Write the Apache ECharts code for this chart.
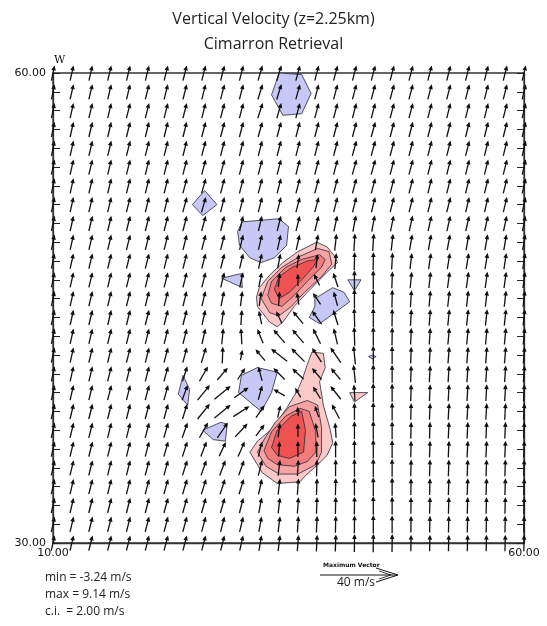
<!DOCTYPE html>
<html>
<head>
<meta charset="utf-8">
<script src="https://cdn.jsdelivr.net/npm/echarts@6/dist/echarts.min.js"></script>
<style>
  html, body { margin: 0; padding: 0; background: #fff; }
  #chart { width: 547px; height: 626px; }
</style>
</head>
<body>
<div id="chart"></div>
<script>
// grid of the retrieval: x every 2 km, y every 1.2 km (rows listed from top, y = 60 down to 30)
var xCols = [10,12,14,16,18,20,22,24,26,28,30,32,34,36,38,40,42,44,46,48,50,52,54,56,58,60];
var yRows = [60,58.8,57.6,56.4,55.2,54,52.8,51.6,50.4,49.2,48,46.8,45.6,44.4,43.2,42,40.8,39.6,38.4,37.2,36,34.8,33.6,32.4,31.2,30];

// horizontal wind, m/s (u east, v north), one row per yRows entry
var U = [
  [1.6,1.8,1.8,1.9,1.9,1.9,2.0,2.0,2.0,2.0,2.1,2.3,2.4,2.2,2.1,2.1,2.1,2.1,2.1,2.1,2.0,2.0,2.0,2.0,2.0,1.9],
  [1.6,1.8,1.9,1.9,1.9,2.0,2.0,2.0,2.0,2.1,2.1,2.5,2.5,2.2,2.1,2.1,2.1,2.1,2.1,2.1,2.1,2.0,2.0,2.0,2.0,1.9],
  [1.6,1.8,1.9,1.9,2.0,2.0,2.0,2.0,2.0,2.1,2.1,2.6,2.4,2.2,2.1,2.1,2.1,2.1,2.1,2.1,2.1,2.0,2.0,2.0,2.0,1.9],
  [1.6,1.8,1.9,1.9,2.0,2.0,2.0,2.0,2.1,2.1,2.1,2.2,2.2,2.1,2.1,2.1,2.1,2.2,2.1,2.1,2.1,2.0,2.0,2.0,2.0,1.9],
  [1.6,1.8,1.9,1.9,2.0,2.0,2.0,2.0,2.1,2.1,2.1,2.1,2.1,2.1,2.1,2.1,2.2,2.2,2.1,2.1,2.1,2.0,2.0,2.0,2.0,1.9],
  [1.6,1.8,1.9,1.9,2.0,2.0,2.0,2.1,2.1,2.1,2.1,2.1,2.1,2.1,2.1,2.1,2.2,2.2,2.1,2.1,2.1,2.0,2.0,2.0,2.0,1.9],
  [1.6,1.8,1.9,1.9,2.0,2.0,2.0,2.1,2.2,2.1,2.1,2.1,2.1,2.1,2.1,2.1,2.1,2.1,2.1,2.1,2.0,2.0,2.0,2.0,2.0,1.9],
  [1.6,1.8,1.9,1.9,2.0,2.0,2.0,2.2,2.3,2.1,2.0,2.0,2.0,2.1,2.1,2.0,2.0,2.0,2.0,2.0,2.0,2.0,1.9,1.9,1.9,1.8],
  [1.6,1.8,1.9,1.9,2.0,2.0,2.0,2.1,2.2,2.0,1.9,1.9,2.0,2.0,2.0,1.8,1.6,1.6,1.7,1.8,1.8,1.8,1.8,1.8,1.7,1.6],
  [1.6,1.8,1.9,1.9,2.0,2.0,2.0,2.0,2.1,2.0,1.9,1.9,1.8,1.8,1.5,1.0,0.5,0.6,1.0,1.4,1.5,1.5,1.5,1.5,1.4,1.4],
  [1.6,1.8,1.9,1.9,2.0,2.0,2.0,2.0,2.0,2.0,1.9,1.8,1.5,1.0,0.8,0.8,0.2,0.2,0.5,1.0,1.3,1.4,1.4,1.4,1.3,1.3],
  [1.6,1.8,1.9,1.9,2.0,2.0,2.0,2.0,2.0,1.9,1.8,1.5,0.8,0.0,-3.0,-2.5,0.0,0.0,0.3,0.8,1.0,1.2,1.2,1.2,1.2,1.1],
  [1.6,1.8,1.9,1.9,2.0,2.0,2.0,2.0,1.9,1.6,1.0,1.0,0.5,-1.0,-4.0,-2.0,0.0,0.0,0.2,0.6,0.8,1.0,1.0,1.0,1.0,1.0],
  [1.7,1.8,1.9,1.9,2.0,2.0,2.0,2.0,1.8,1.2,0.5,-1.5,-3.0,-5.5,-5.0,-2.5,-0.3,0.0,0.1,0.5,0.7,0.9,0.9,0.9,0.9,0.9],
  [1.7,1.8,1.9,2.0,2.0,2.0,2.0,2.0,1.8,0.8,-0.5,-3.0,-6.0,-6.0,-4.0,-2.0,-0.3,0.0,0.1,0.4,0.6,0.8,0.8,0.8,0.8,0.8],
  [1.7,1.8,1.9,2.0,2.0,2.0,2.1,2.2,2.5,0.3,1.0,-5.0,-8.5,-7.0,-5.0,-5.5,-1.0,0.0,0.0,0.3,0.5,0.7,0.7,0.7,0.7,0.7],
  [1.7,1.8,1.9,2.0,2.0,2.0,2.2,2.5,4.5,5.5,4.0,-2.0,-6.0,-6.0,-5.0,-5.0,-1.0,0.0,0.0,0.3,0.5,0.6,0.6,0.6,0.6,0.6],
  [1.7,1.8,1.9,2.0,2.0,2.1,2.2,3.0,6.5,8.5,7.5,2.0,-6.0,-3.0,-4.0,-5.5,-0.5,0.0,0.0,0.3,0.4,0.5,0.5,0.5,0.5,0.5],
  [1.8,1.9,2.0,2.0,2.0,2.1,2.2,2.5,6.5,8.5,8.5,4.5,1.5,-0.5,-2.0,-4.0,0.0,0.0,0.0,0.2,0.4,0.5,0.5,0.5,0.5,0.5],
  [1.8,1.9,2.0,2.0,2.0,2.1,2.3,2.8,4.5,5.5,6.5,4.5,1.0,0.0,-1.5,-0.5,0.0,0.0,0.0,0.2,0.3,0.4,0.4,0.4,0.4,0.4],
  [1.8,1.9,2.0,2.0,2.0,2.1,2.3,2.6,3.0,3.5,3.5,2.0,0.5,0.0,0.0,0.0,0.0,0.0,0.0,0.2,0.3,0.4,0.4,0.4,0.4,0.4],
  [1.8,1.9,2.0,2.0,2.0,2.1,2.2,2.5,2.8,3.0,2.8,2.0,1.0,0.5,0.2,0.1,0.0,0.0,0.0,0.2,0.3,0.3,0.3,0.3,0.3,0.3],
  [1.8,1.9,2.0,2.0,2.0,2.1,2.2,2.4,2.5,2.6,2.5,1.8,1.0,0.6,0.3,0.2,0.0,0.0,0.0,0.1,0.2,0.3,0.3,0.3,0.3,0.3],
  [1.8,1.9,2.0,2.0,2.0,2.1,2.2,2.3,2.3,2.3,2.1,1.6,1.0,0.6,0.3,0.2,0.1,0.0,0.0,0.1,0.2,0.2,0.2,0.2,0.2,0.2],
  [1.8,1.9,2.0,2.0,2.0,2.1,2.1,2.2,2.2,2.1,1.9,1.5,1.0,0.6,0.4,0.2,0.1,0.0,0.0,0.1,0.2,0.2,0.2,0.2,0.2,0.2],
  [1.8,1.9,2.0,2.0,2.0,2.0,2.1,2.1,2.1,2.0,1.8,1.4,1.0,0.7,0.4,0.3,0.1,0.1,0.1,0.1,0.2,0.2,0.2,0.2,0.2,0.2]
];
var V = [
  [8.0,8.0,8.0,8.0,8.0,8.0,8.0,8.0,8.0,8.0,8.0,8.1,8.1,8.0,8.0,8.0,8.0,8.0,8.0,8.0,8.0,8.0,8.0,8.0,8.0,8.0],
  [8.0,8.0,8.0,8.0,8.0,8.0,8.0,8.0,8.0,8.0,8.0,8.1,8.1,8.0,8.0,8.0,8.0,8.0,8.0,8.0,8.0,8.0,8.0,8.0,8.0,8.0],
  [8.0,8.0,8.0,8.0,8.0,8.0,8.0,8.0,8.0,8.0,8.0,8.1,8.1,8.0,8.0,8.0,8.0,8.0,8.0,8.0,8.0,8.0,8.0,8.0,8.0,8.0],
  [8.0,8.0,8.0,8.0,8.0,8.0,8.0,8.0,8.0,8.0,8.0,8.0,8.0,8.0,8.0,8.0,8.0,8.0,8.0,8.0,8.0,8.0,8.0,8.0,8.0,8.0],
  [8.0,8.0,8.0,8.0,8.0,8.0,8.0,8.0,8.0,8.0,8.0,8.0,8.0,8.0,8.0,8.0,8.0,8.0,8.0,8.0,8.0,8.0,8.0,8.0,8.0,8.0],
  [8.0,8.0,8.0,8.0,8.0,8.0,8.0,8.0,8.0,8.0,8.0,8.0,8.0,8.0,8.0,8.0,8.0,8.0,8.0,8.0,8.0,8.0,8.0,8.0,8.0,8.0],
  [8.0,8.0,8.0,8.0,8.0,8.0,8.0,8.0,8.0,8.0,8.0,8.0,8.0,8.0,8.0,8.0,8.0,8.0,8.0,8.0,8.0,8.0,8.0,8.0,8.0,8.0],
  [8.0,8.0,8.0,8.0,8.0,8.0,8.0,8.0,8.0,8.0,8.0,8.0,8.0,8.0,8.0,8.0,8.1,8.1,8.0,8.0,8.0,8.0,8.0,8.0,8.0,8.0],
  [8.0,8.0,8.0,8.0,8.0,8.0,8.0,8.0,8.0,8.0,8.0,8.0,8.0,8.0,8.1,8.3,8.6,8.6,8.4,8.2,8.1,8.1,8.1,8.1,8.1,8.1],
  [8.0,8.0,8.0,8.0,8.0,8.0,8.0,8.0,8.0,8.0,8.0,8.0,8.0,8.0,8.3,8.8,9.2,9.2,8.8,8.4,8.4,8.4,8.4,8.4,8.4,8.4],
  [8.0,8.0,8.0,8.0,8.0,8.0,8.0,8.0,8.0,8.0,8.0,8.0,7.8,7.5,7.5,8.5,9.5,9.5,9.0,8.5,8.5,8.5,8.5,8.5,8.5,8.5],
  [8.0,8.0,8.0,8.0,8.0,8.0,8.0,8.0,8.0,8.0,8.0,7.8,7.5,6.5,6.0,7.5,10.0,10.0,9.0,8.6,8.6,8.6,8.6,8.6,8.6,8.6],
  [8.0,8.0,8.0,8.0,8.0,8.0,8.0,8.0,8.0,8.0,8.0,7.8,7.5,6.5,6.0,7.5,10.0,10.0,9.5,9.0,8.6,8.6,8.6,8.6,8.6,8.6],
  [8.0,8.0,8.0,8.0,8.0,8.0,8.0,8.0,8.0,8.0,8.0,7.0,6.5,6.5,7.0,8.0,10.0,10.0,9.5,8.7,8.7,8.7,8.7,8.7,8.7,8.7],
  [8.0,8.0,8.0,8.0,8.0,8.0,8.0,8.0,8.2,8.5,8.5,7.5,7.0,7.0,8.0,8.5,10.0,10.0,9.5,8.8,8.8,8.8,8.8,8.8,8.8,8.8],
  [8.0,8.0,8.0,8.0,8.0,8.0,8.0,8.0,8.2,8.8,5.5,6.0,6.5,7.0,7.5,8.0,9.8,10.0,9.5,8.8,8.8,8.8,8.8,8.8,8.8,8.8],
  [8.0,8.0,8.0,8.0,8.0,8.0,8.0,8.0,7.8,6.5,6.0,7.5,6.0,5.5,6.0,6.0,9.5,10.0,9.5,8.8,8.8,8.8,8.8,8.8,8.8,8.8],
  [8.0,8.0,8.0,8.0,8.0,8.0,8.0,8.0,8.0,7.0,5.5,7.5,3.5,5.0,6.5,7.0,8.5,10.0,9.5,8.8,8.8,8.8,8.8,8.8,8.8,8.8],
  [8.0,8.0,8.0,8.0,8.0,8.0,8.0,8.0,8.0,7.0,5.5,6.5,6.5,5.0,6.0,7.5,9.0,10.0,9.5,8.8,8.8,8.8,8.8,8.8,8.8,8.8],
  [8.0,8.0,8.0,8.0,8.0,8.0,8.0,8.0,8.0,8.0,7.0,6.0,7.5,7.0,7.5,8.0,9.5,10.0,9.5,8.8,8.8,8.8,8.8,8.8,8.8,8.8],
  [8.0,8.0,8.0,8.0,8.0,8.0,8.0,8.0,8.0,7.5,8.0,8.0,8.0,8.5,8.5,9.0,9.5,10.0,9.5,8.8,8.8,8.8,8.8,8.8,8.8,8.8],
  [8.0,8.0,8.0,8.0,8.0,8.0,8.0,8.0,8.0,8.0,8.0,8.2,8.4,8.6,8.8,9.0,9.5,9.8,9.5,8.8,8.8,8.8,8.8,8.8,8.8,8.8],
  [8.0,8.0,8.0,8.0,8.0,8.0,8.0,8.0,8.0,8.0,8.0,8.2,8.4,8.6,8.8,9.0,9.5,9.8,9.5,8.8,8.8,8.8,8.8,8.8,8.8,8.8],
  [8.0,8.0,8.0,8.0,8.0,8.0,8.0,8.0,8.0,8.0,8.0,8.2,8.4,8.6,8.8,9.0,9.5,9.8,9.5,8.8,8.8,8.8,8.8,8.8,8.8,8.8],
  [8.0,8.0,8.0,8.0,8.0,8.0,8.0,8.0,8.0,8.0,8.0,8.2,8.4,8.6,8.8,9.0,9.5,9.8,9.5,8.8,8.8,8.8,8.8,8.8,8.8,8.8],
  [8.0,8.0,8.0,8.0,8.0,8.0,8.0,8.0,8.0,8.0,8.0,8.2,8.4,8.6,8.8,9.0,9.5,9.8,9.5,8.8,8.8,8.8,8.8,8.8,8.8,8.8]
];

// contour polygons of vertical velocity, vertices in km [x, y]
var down1 = [[34.0,60.0],[36.4,59.9],[37.4,58.7],[36.4,57.4],[34.4,57.3],[33.2,58.6]];
var down2 = [[26.1,52.5],[27.4,51.6],[25.9,50.9],[24.8,51.6]];
var down3 = [[30.1,50.5],[34.0,50.7],[35.0,50.2],[34.8,49.0],[33.5,48.2],[32.1,47.9],[30.9,48.2],[29.8,49.0],[29.6,49.9]];
var down4 = [[27.9,46.9],[30.0,47.2],[30.1,46.3]];
var down5 = [[37.8,45.6],[39.7,46.3],[40.9,46.0],[41.5,45.4],[39.9,44.7],[38.3,44.0],[37.2,44.4],[37.8,45.1]];
var down6 = [[41.3,46.8],[42.7,46.8],[42.0,46.1]];
var down7 = [[23.8,40.7],[24.5,39.8],[24.3,38.8],[23.3,39.5]];
var down8 = [[30.0,40.7],[31.7,41.2],[33.8,40.9],[33.2,39.6],[32.1,38.4],[30.9,39.0],[29.7,39.6]];
var down9 = [[25.9,37.2],[27.8,37.7],[28.5,37.6],[28.3,36.5],[27.0,36.6]];
var down10 = [[43.5,41.9],[43.9,42.0],[44.3,41.9],[43.9,41.75]];

var upA2 = [[31.6,45.7],[31.9,46.3],[33.0,47.1],[34.4,47.9],[36.0,48.6],[38.0,49.2],[39.1,48.9],[39.9,48.3],[40.2,47.9],[39.3,47.4],[38.3,46.8],[37.0,46.0],[35.6,45.1],[34.4,44.1],[33.8,43.8],[33.0,44.1],[31.7,45.1]];
var upA4 = [[32.1,45.6],[32.8,46.7],[34.3,47.6],[36.2,48.3],[38.1,48.8],[39.3,48.6],[39.6,47.8],[38.5,47.0],[36.7,46.0],[35.3,45.1],[34.0,44.5],[33.0,44.7]];
var upA6 = [[32.8,45.8],[33.2,46.7],[34.7,47.6],[36.4,48.1],[38.3,48.4],[38.9,48.1],[38.5,47.6],[37.0,46.7],[35.6,45.8],[34.3,45.1],[33.2,45.3]];
var upA8 = [[33.5,46.2],[34.0,47.0],[35.4,47.6],[37.0,48.0],[38.1,48.1],[37.6,47.6],[36.4,46.8],[35.1,46.0],[34.0,45.6]];
var upB2 = [[37.5,42.2],[38.7,42.1],[38.9,41.2],[38.3,40.3],[38.7,38.8],[39.4,37.3],[39.7,36.4],[39.1,35.6],[38.1,35.0],[36.8,34.3],[36.2,33.9],[33.8,33.8],[32.2,34.5],[30.9,35.8],[31.7,36.5],[33.3,37.3],[34.8,38.6],[36.0,39.8],[36.5,40.5],[37.0,41.4]];
var upB4 = [[31.7,35.8],[32.5,36.7],[33.6,37.7],[35.1,38.7],[37.0,39.1],[38.1,38.8],[38.5,37.4],[38.5,35.8],[37.9,35.0],[36.0,34.4],[34.0,34.4],[32.6,34.9]];
var upB6 = [[32.4,35.9],[33.2,37.1],[34.7,38.1],[36.2,38.6],[37.2,38.4],[37.9,37.1],[37.9,35.8],[37.0,35.2],[35.6,34.9],[33.8,35.0],[32.8,35.4]];
var upB8 = [[33.2,36.1],[33.8,37.2],[35.3,38.1],[36.4,38.4],[36.8,37.2],[36.6,35.8],[35.1,35.4],[33.8,35.6]];
var upC2 = [[41.5,39.6],[43.4,39.6],[42.0,39.0]];

var contourLevels = [-2,-2,-2,-2,-2,-2,-2,-2,-2,-2, 2,2,2, 4,4, 6,6, 8,8];
var contourShapes = [down1,down2,down3,down4,down5,down6,down7,down8,down9,down10, upA2,upB2,upC2, upA4,upB4, upA6,upB6, upA8,upB8];

var stats = ['min = -3.24 m/s', 'max = 9.14 m/s', 'c.i.  = 2.00 m/s'];
var refSpeed = 40;

var levelColor = { '-2': '#c8c8f6', '2': '#fcc9c9', '4': '#f8a3a3', '6': '#f27b7b', '8': '#ee5252' };
var PX_PER_MS = 1.9;   // arrow pixels per m/s

var vecData = [];
for (var j = 0; j < yRows.length; j++) {
  for (var k = 0; k < xCols.length; k++) {
    vecData.push([xCols[k], yRows[j], U[j][k], V[j][k]]);
  }
}

var myChart = echarts.init(document.getElementById('chart'));

var option = {
  animation: false,
  backgroundColor: '#fff',
  title: {
    text: 'Vertical Velocity (z=2.25km)\nCimarron Retrieval',
    left: 'center',
    top: 2,
    textStyle: { fontFamily: 'Open Sans', fontWeight: 'normal', fontSize: 16, lineHeight: 25, color: '#222' }
  },
  grid: { left: 53, right: 23, top: 73, bottom: 83, show: true, borderColor: '#333', borderWidth: 1.3 },
  xAxis: {
    type: 'value', min: 10, max: 60, interval: 2,
    splitLine: { show: false },
    axisTick: { show: false },
    axisLine: { lineStyle: { color: '#333', width: 1.3 } },
    axisLabel: {
      margin: 5, color: '#111', fontFamily: 'DejaVu Sans', fontSize: 11,
      formatter: function (v) { return (v === 10 || v === 60) ? v.toFixed(2) : ''; }
    }
  },
  yAxis: [{
    type: 'value', min: 30, max: 60, interval: 1.2,
    splitLine: { show: false },
    axisLine: { show: true, lineStyle: { color: '#333', width: 1.3 } },
    axisTick: { show: true, inside: true, length: 7, lineStyle: { color: '#222' } },
    axisLabel: {
      margin: 7, color: '#111', fontFamily: 'DejaVu Sans', fontSize: 11,
      formatter: function (v) { return (Math.abs(v - 30) < 0.01 || Math.abs(v - 60) < 0.01) ? v.toFixed(2) : ''; }
    }
  }, {
    type: 'value', min: 30, max: 60, interval: 1.2, position: 'right',
    splitLine: { show: false },
    axisLine: { show: true, lineStyle: { color: '#333', width: 1.3 } },
    axisTick: { show: true, inside: true, length: 7, lineStyle: { color: '#222' } },
    axisLabel: { show: false }
  }],
  graphic: [
    { type: 'text', left: 54, top: 55, style: { text: 'W', font: '11px "DejaVu Serif"', fill: '#111' } },
    { type: 'text', left: 45, top: 572, style: { text: stats[0], font: '12px "Open Sans"', fill: '#222' } },
    { type: 'text', left: 45, top: 589, style: { text: stats[1], font: '12px "Open Sans"', fill: '#222' } },
    { type: 'text', left: 45, top: 606, style: { text: stats[2], font: '12px "Open Sans"', fill: '#222' } },
    { type: 'text', left: 323, top: 562, style: { text: 'Maximum Vector', font: 'bold 6px "DejaVu Sans"', fill: '#111' } },
    { type: 'line', shape: { x1: 320, y1: 575, x2: 320 + refSpeed * PX_PER_MS, y2: 575 }, style: { stroke: '#111', lineWidth: 1 } },
    { type: 'polyline', shape: { points: [[376, 568], [398, 575], [376, 582]] }, style: { stroke: '#111', fill: null, lineWidth: 1 } },
    { type: 'polyline', shape: { points: [[379, 571], [391, 575], [379, 579]] }, style: { stroke: '#111', fill: null, lineWidth: 0.8 } },
    { type: 'text', left: 337, top: 577, style: { text: refSpeed + ' m/s', font: '12px "Open Sans"', fill: '#222' } }
  ],
  series: [{
    type: 'custom',
    data: contourShapes.map(function (p, i) { return [i, contourLevels[i]]; }),
    renderItem: function (params, api) {
      var i = api.value(0);
      var pts = contourShapes[i].map(function (p) { return api.coord(p); });
      return {
        type: 'polygon',
        shape: { points: pts },
        style: { fill: levelColor[String(contourLevels[i])], stroke: '#2a2a3a', lineWidth: 0.8 }
      };
    },
    z: 1
  }, {
    type: 'custom',
    data: vecData,
    renderItem: function (params, api) {
      var c = api.coord([api.value(0), api.value(1)]);
      var dx = api.value(2) * PX_PER_MS, dy = -api.value(3) * PX_PER_MS;
      var len = Math.sqrt(dx * dx + dy * dy) || 1;
      var ux = dx / len, uy = dy / len;
      var x0 = c[0] - dx / 2, y0 = c[1] - dy / 2;
      var x1 = c[0] + dx / 2, y1 = c[1] + dy / 2;
      var hl = 5, hw = 2.3;
      return {
        type: 'group',
        children: [{
          type: 'line',
          shape: { x1: x0, y1: y0, x2: x1 - ux * 2, y2: y1 - uy * 2 },
          style: { stroke: '#111', lineWidth: 1.3 }
        }, {
          type: 'polygon',
          shape: { points: [[x1, y1], [x1 - ux * hl - uy * hw, y1 - uy * hl + ux * hw], [x1 - ux * hl + uy * hw, y1 - uy * hl - ux * hw]] },
          style: { fill: '#111' }
        }]
      };
    },
    z: 2
  }]
};
myChart.setOption(option);
</script>
</body>
</html>
